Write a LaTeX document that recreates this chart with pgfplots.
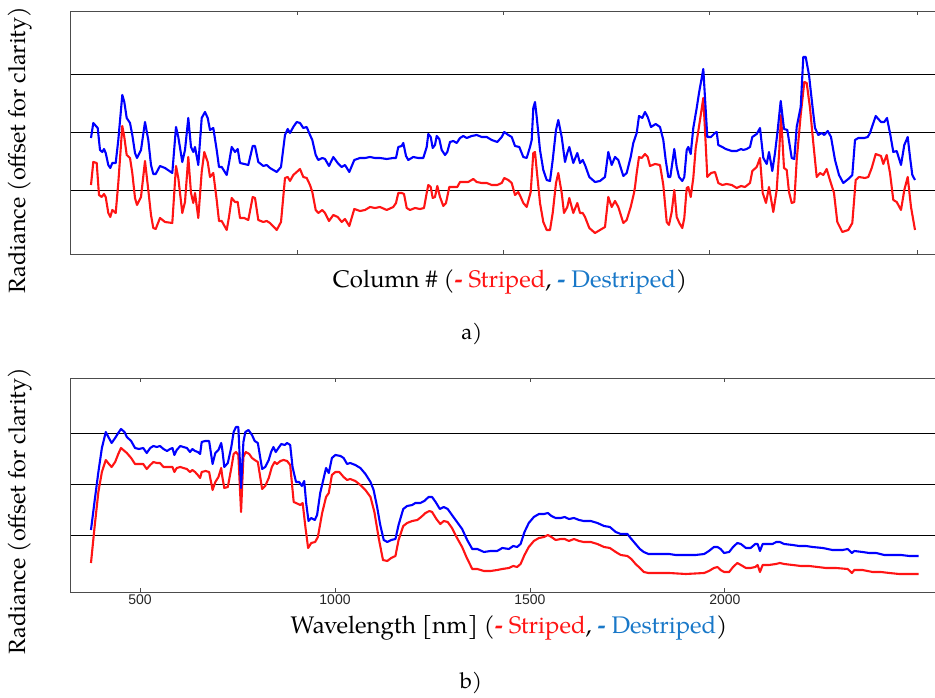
\documentclass[border=0pt]{standalone}
\usepackage{fontspec}
\setmainfont{texgyrepagella}[Extension=.otf, UprightFont=*-regular, BoldFont=*-bold]
\newfontfamily\tickfont{Liberation Sans}
\usepackage{pgfplots}
\pgfplotsset{compat=1.18}
\definecolor{dsblue}{RGB}{25,120,200}
\definecolor{stred}{RGB}{255,20,20}

\pgfplotsset{
  panel/.style={
    scale only axis,
    axis line style={black!70, line width=0.8pt},
    ymin=0,
    yticklabels={},
    ytick style={draw=none},
    ymajorgrids,
    major grid style={black, line width=1pt},
    tick align=inside,
    xtick style={black!70, line width=0.8pt},
    major tick length=4pt,
  },
  striped/.style={stred, line width=2.1pt, no marks, line join=round},
  destriped/.style={blue, line width=2.1pt, no marks, line join=round},
}

\begin{document}
\begin{tikzpicture}[x=1pt, y=1pt]
\path[use as bounding box] (0,0) rectangle (935,698);

% ---------- a) across-track profile ----------
\begin{axis}[panel,
    at={(70pt,444pt)}, anchor=south west,
    width=865pt, height=243pt,
    xmin=70, xmax=935, ymax=243,
    xtick={297,503,709,917}, xticklabels={},
    ytick={63,121,179},
  ]
\addplot[striped] coordinates {
(91,69) (93.3,92) (96.7,91) (99,59) (101.7,57) (104,60) (105.7,57) (108.3,41) (110.3,37) (112.3,44)
(115.7,41) (118.3,71) (122.3,128) (124.3,117) (126.7,99) (130,96) (132.3,81) (135,56) (137,49) (141,57)
(145,93) (148.3,64) (151,39) (153.3,26) (155.7,25) (160,36) (165,32) (172.3,31) (176,88) (178.3,76)
(182.3,41) (185,52) (188.3,97) (191,61) (193.3,51) (195,61) (198.3,36) (201.7,82) (204.3,102) (207.7,92)
(210,77) (213.3,81) (216.7,54) (219,33) (221.7,33) (226.7,24) (229,37) (231.7,56) (235,52) (237.7,52)
(240,36) (244.3,36) (248.3,34) (252.7,57) (255,56) (258.3,34) (263.3,32) (266.7,33) (270,31) (276.7,24)
(281,32) (285,76) (287.7,77) (290,73) (293.3,79) (296.7,82) (300,85) (303.3,77) (306.7,76) (310,69)
(312.3,62) (315.7,44) (318.3,41) (322.3,44) (325,41) (329,33) (333.3,39) (337.7,37) (341.7,32) (345,35)
(349.3,28) (354.3,45) (360,43) (365,44) (370,47) (375,46) (380,47) (386.7,44) (393.3,47) (396,51)
(398.3,61) (401.7,61) (404,60) (406.7,46) (410,44) (415,46) (420,45) (424,46) (426.7,61) (428.3,69)
(430.7,67) (432.7,56) (435,57) (437.3,68) (440,57) (443.3,48) (446,51) (449.3,67) (453.3,67) (457.3,67)
(460,72) (465,72) (468.3,72) (473.3,75) (476.7,72) (481.7,71) (486.7,71) (491.7,69) (497.3,69) (501.7,71)
(504.3,76) (508.3,74) (511.7,71) (515,59) (518.3,62) (520.7,57) (523.3,51) (526.7,47) (530.7,62) (533.3,101)
(535,102) (536.7,84) (540,51) (543.3,32) (546.7,24) (550,24) (552.7,41) (556,71) (558.3,81) (561.7,61)
(564,41) (567.3,47) (569.3,56) (573.3,41) (577.3,51) (580,41) (582.7,41) (585,37) (589.3,26) (595,21)
(600,24) (605,27) (608.3,57) (611.7,47) (615,53) (618.3,47) (623.3,31) (626.7,34) (630.7,47) (634,61)
(635,67) (636.7,81) (639,97) (641.7,96) (645,100) (647.7,97) (650,88) (655,90) (660,89) (663.3,69)
(666.7,32) (669,29) (671.7,42) (674.3,64) (676.7,37) (679.3,31) (682.3,26) (684.3,36) (686.7,66) (688.3,67)
(690.7,57) (693.3,76) (695.7,106) (700,134) (703.3,156) (705,124) (707.3,77) (711,81) (715,82) (718.3,71)
(722.3,69) (726.7,70) (731.7,69) (736.7,66) (741,68) (745,67) (750,71) (752.3,83) (756.7,87) (760,96)
(762.7,61) (766,51) (769,67) (773.3,42) (776.7,64) (779.3,104) (781,139) (784,86) (786.7,84) (789,62)
(791.7,51) (794.3,52) (796.7,94) (800.7,139) (804.3,172) (806.7,171) (810,146) (813.3,111) (816.7,77) (820,81)
(823.3,79) (826.7,85) (829.3,76) (834,61) (837.3,32) (842.3,22) (848.3,24) (852.3,31) (855.7,74) (859,77)
(865,76) (868.3,77) (871.7,86) (875.7,100) (881,98) (883.3,90) (886.7,99) (890,81) (893.3,54) (896.7,52)
(901,44) (904.3,64) (907.7,77) (911,47) (915,24)
};
\addplot[destriped] coordinates {
(91,116) (93.3,131) (97.7,126) (100,104) (102.3,102) (104,105) (105.7,101) (108.3,89) (110.3,86) (112.3,91)
(115.7,91) (118.3,114) (122.3,159) (124.3,152) (126.7,136) (130,131) (132.3,119) (135,101) (137,96) (141,104)
(145,132) (148.3,114) (151,89) (153.3,80) (155.7,80) (160,88) (165,86) (172.3,81) (176,127) (178.3,117)
(182.3,92) (185,104) (188.3,136) (191,107) (193.3,102) (195,107) (198.3,89) (201.7,136) (205,142) (207.7,136)
(210,124) (213.3,126) (216.7,104) (219,87) (221.7,87) (226.7,79) (229,91) (231.7,107) (235,102) (237.7,105)
(240,91) (244.3,90) (248.3,89) (252.7,108) (255,108) (258.3,92) (263.3,88) (266.7,89) (270,86) (276.7,82)
(281,87) (285,119) (287.7,125) (290,121) (293.3,127) (296.7,132) (300,131) (303.3,126) (306.7,127) (310,119)
(312.3,114) (315.7,99) (318.3,94) (322.3,96) (325,95) (329,88) (333.3,97) (337.7,91) (341.7,87) (345,89)
(349.3,82) (354.3,94) (360,96) (365,96) (370,97) (375,96) (380,96) (386.7,95) (393.3,96) (396,96)
(398.3,107) (401.7,108) (403.3,111) (406,98) (408.3,94) (413.3,97) (418.3,96) (423.3,96) (426.7,107) (428.3,120)
(430.7,117) (432.7,106) (435,109) (436.7,118) (439.3,115) (441.7,104) (445,99) (447.3,102) (450,112) (453.3,113)
(456.7,111) (460,116) (463.3,118) (466.7,116) (471.7,118) (476.7,119) (481.7,117) (486.7,117) (491.7,114) (497.3,112)
(501.7,117) (504.3,122) (508.3,119) (511.7,117) (515,108) (519.3,107) (523.3,97) (526.7,96) (530,107) (531.7,114)
(533.3,146) (535,152) (536.7,137) (540,104) (543.3,84) (546.7,74) (550,73) (552.7,94) (556,124) (558.3,134)
(561.7,117) (565,92) (567.3,101) (569.3,107) (573.3,91) (577.3,101) (580,91) (582.7,94) (585,89) (589.3,77)
(595,72) (600,73) (605,77) (608.3,102) (611.7,89) (615,97) (618.3,94) (623.3,78) (626.7,81) (630.7,97)
(633.3,111) (635,116) (636.7,121) (639,138) (642.3,136) (645,142) (647.7,137) (651,127) (655.7,130) (660,127)
(663.3,114) (665.7,94) (668.3,77) (670.3,77) (674.3,105) (676.7,87) (679,77) (682.3,73) (684.3,77) (686.7,104)
(688.3,107) (690.7,100) (693.3,126) (696.7,146) (699,161) (701.7,176) (703.3,185) (705,156) (707.3,117) (711,117)
(715,121) (716.7,122) (718.3,109) (722.3,107) (725.7,105) (731.7,103) (736.7,103) (741,105) (743.3,104) (746.7,105)
(750,107) (752.3,117) (756.7,120) (760,126) (763.3,96) (766.7,90) (769,102) (772.3,83) (775,101) (777.7,124)
(780.7,153) (784,125) (787.3,124) (791.7,96) (794.3,95) (796.7,127) (800.7,147) (803.3,197) (805.7,197) (809,179)
(812.3,149) (815,126) (818.3,119) (821.7,121) (824.3,119) (827.7,123) (831,117) (835,94) (839,79) (843.3,71)
(848.3,75) (852.3,79) (855,114) (858.3,116) (864.3,116) (867.7,117) (870,121) (875.7,138) (881,132) (884.3,132)
(887,136) (890,121) (893.3,102) (896.7,103) (901,89) (904.3,109) (907.7,117) (910,97) (912.3,79) (915,74)
};
\end{axis}

% ---------- b) spectral profile ----------
\begin{axis}[panel,
    at={(70.7pt,106pt)}, anchor=south west,
    width=864.3pt, height=214pt,
    xmin=322, xmax=2539, ymax=214,
    xtick={500,1000,1500,2000},
    /pgf/number format/1000 sep={},
    /pgf/number format/assume math mode=true,
    xticklabel style={font=\tickfont\fontsize{14}{16}\selectfont, text=black!85, yshift=1pt},
    ytick={56,107,158},
  ]
\addplot[striped] coordinates {
(374,29) (383,64) (393,100) (402,120) (412,132) (420,128) (427,125) (436,130) (444,138) (451,144)
(460,141) (466,139) (477,134) (487,128) (497,128) (508,128) (517,123) (526,127) (534,130) (543,129)
(551,129) (560,125) (569,125) (577,125) (583,125) (588,120) (594,124) (603,125) (611,124) (620,123)
(628,120) (634,122) (641,120) (648,117) (654,114) (658,120) (668,121) (677,120) (686,102) (693,110)
(701,115) (708,124) (711,115) (716,104) (725,105) (734,124) (740,138) (746,140) (752,137) (759,80)
(765,135) (771,140) (780,138) (787,134) (794,132) (802,130) (813,103) (821,106) (830,114) (838,125)
(845,130) (851,128) (860,131) (868,132) (877,131) (885,127) (894,90) (900,89) (911,87) (917,89)
(924,65) (931,44) (939,49) (949,50) (956,55) (967,79) (977,95) (984,99) (992,117) (1001,120)
(1011,120) (1022,115) (1031,112) (1039,113) (1052,111) (1065,107) (1078,102) (1091,95) (1101,80) (1112,54)
(1123,32) (1134,31) (1144,34) (1155,36) (1163,52) (1175,66) (1185,69) (1198,71) (1211,72) (1221,75)
(1232,79) (1242,81) (1249,80) (1260,73) (1270,68) (1279,71) (1289,70) (1300,64) (1313,54) (1326,45)
(1337,35) (1352,23) (1365,23) (1382,21) (1399,21) (1416,22) (1429,23) (1446,24) (1457,26) (1467,25)
(1476,28) (1486,37) (1497,45) (1510,51) (1523,54) (1536,55) (1546,57) (1555,55) (1566,52) (1579,53)
(1589,53) (1600,51) (1613,53) (1626,51) (1638,50) (1656,50) (1673,48) (1690,45) (1705,44) (1720,40)
(1733,37) (1750,36) (1760,33) (1771,28) (1782,24) (1792,20) (1804,19) (1823,19) (1857,19) (1900,18)
(1947,19) (1959,21) (1972,24) (1981,25) (1989,22) (1998,20) (2011,20) (2021,25) (2032,29) (2041,27)
(2054,24) (2066,24) (2078,25) (2084,27) (2090,20) (2097,27) (2113,27) (2131,28) (2141,29) (2152,28)
(2174,27) (2195,26) (2216,26) (2238,25) (2259,24) (2285,24) (2315,23) (2326,19) (2332,22) (2353,22)
(2379,20) (2400,20) (2422,19) (2447,18) (2473,18) (2497,18)
};
\addplot[destriped] coordinates {
(374,62) (383,90) (393,120) (402,144) (412,160) (420,154) (427,149) (436,154) (444,159) (451,163)
(460,160) (466,155) (477,151) (487,144) (497,143) (508,144) (517,139) (526,144) (534,146) (543,145)
(551,146) (560,143) (569,141) (577,143) (583,144) (588,137) (594,142) (603,146) (611,145) (620,144)
(628,140) (634,143) (641,141) (648,140) (654,138) (658,150) (667,151) (677,151) (686,128) (693,139)
(701,142) (708,149) (711,142) (716,125) (725,129) (734,145) (740,160) (746,165) (752,165) (759,104)
(765,150) (770,160) (778,162) (787,157) (794,151) (802,149) (813,123) (821,125) (830,132) (836,140)
(842,145) (848,140) (855,144) (862,148) (871,147) (877,149) (885,147) (891,125) (900,110) (908,110)
(915,106) (921,111) (926,89) (932,71) (939,74) (948,72) (954,77) (962,99) (971,114) (977,124)
(984,119) (992,134) (1001,137) (1014,136) (1022,134) (1031,128) (1039,129) (1052,127) (1065,124) (1078,118)
(1091,110) (1099,102) (1108,85) (1116,67) (1125,52) (1134,50) (1144,52) (1155,53) (1163,67) (1175,83)
(1185,86) (1198,87) (1206,89) (1219,89) (1229,91) (1240,95) (1249,95) (1258,90) (1269,83) (1279,85)
(1289,83) (1300,77) (1313,70) (1326,63) (1339,52) (1352,43) (1365,43) (1382,40) (1399,41) (1416,41)
(1429,44) (1446,43) (1457,46) (1467,45) (1476,48) (1486,60) (1497,69) (1510,75) (1523,78) (1536,78)
(1546,79) (1555,76) (1566,74) (1579,74) (1589,75) (1600,73) (1613,74) (1626,72) (1638,71) (1656,71)
(1673,69) (1690,66) (1705,65) (1720,60) (1733,58) (1750,58) (1758,54) (1771,48) (1782,43) (1792,40)
(1804,38) (1823,38) (1840,38) (1857,38) (1874,37) (1900,37) (1925,37) (1947,38) (1959,41) (1972,45)
(1981,45) (1989,43) (1998,39) (2011,40) (2021,45) (2032,49) (2041,48) (2054,44) (2066,44) (2078,48)
(2084,48) (2090,41) (2097,48) (2109,48) (2122,48) (2132,50) (2141,50) (2152,48) (2174,47) (2190,46)
(2208,46) (2225,45) (2251,44) (2276,42) (2302,42) (2315,43) (2326,39) (2332,41) (2353,40) (2370,39)
(2388,39) (2409,37) (2430,37) (2452,37) (2473,36) (2497,36)
};
\end{axis}

% ---------- labels ----------
\node[rotate=90, font=\fontsize{23.5}{28}\selectfont] at (20,548) {Radiance (offset for clarity)};
\node[rotate=90, font=\fontsize{23.5}{28}\selectfont] at (20,187) {Radiance (offset for clarity)};
\node[font=\fontsize{24}{28}\selectfont] at (510,416)
  {Column \# ({\color{stred}\textbf{-} Striped}, {\color{dsblue}\textbf{-} Destriped})};
\node[font=\fontsize{24}{28}\selectfont] at (509,70)
  {Wavelength [nm] ({\color{stred}\textbf{-} Striped}, {\color{dsblue}\textbf{-} Destriped})};
\node[font=\fontsize{22}{26}\selectfont] at (472,364) {a)};
\node[font=\fontsize{22}{26}\selectfont] at (471,15) {b)};
\end{tikzpicture}
\end{document}
